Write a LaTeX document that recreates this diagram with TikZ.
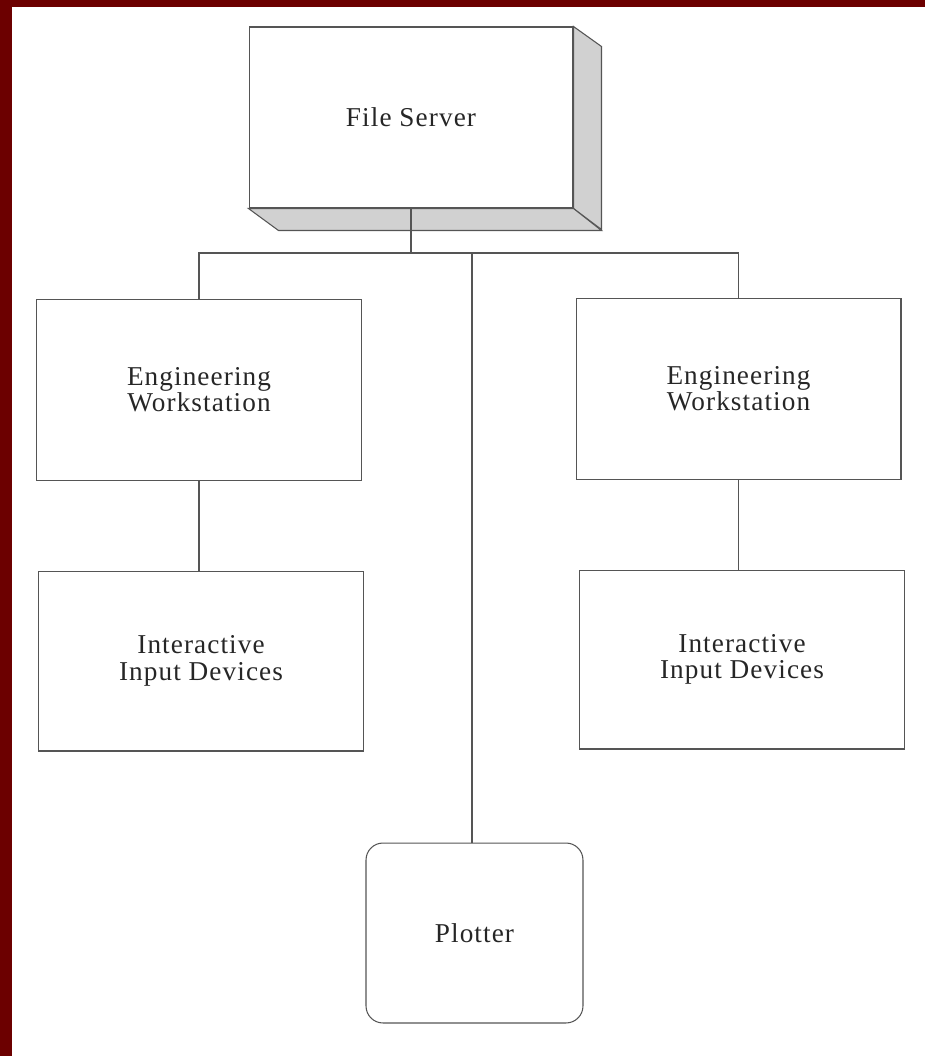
\documentclass[tikz,border=0pt]{standalone}
\usepackage{fontspec}
\setmainfont{Liberation Serif}[LetterSpace=4]
\usetikzlibrary{positioning}
\definecolor{frame}{RGB}{108,0,0}
\definecolor{ink}{RGB}{85,85,85}

\tikzset{
  box/.style={draw=ink, line width=0.6pt, minimum width=6.5cm, minimum height=3.62cm,
    align=center, text=black!85, font=\fontsize{15.5}{15}\selectfont},
  wire/.style={draw=ink, line width=0.6pt},
  side/.style={draw=ink, line width=0.6pt, fill=black!18}
}

\begin{document}
\begin{tikzpicture}[x=0.02cm, y=-0.02cm]
      \useasboundingbox (0,0) rectangle (925,1056);
      \fill[frame] (0,0) rectangle (925,7);
      \fill[frame] (0,0) rectangle (12,1056);

      % file server with its depth faces
      \node[box, minimum width=6.48cm, minimum height=3.62cm] (fs) at (411,117.5) {File Server};
      \draw[side] (fs.north east) -- ++(28,20) -- ++(0,183) -- (fs.south east) -- cycle;
      \draw[side] (fs.south west) -- (fs.south east) -- ++(28,22) -- ++(-323,0) -- cycle;

      \node[box] (ws1) at (199,390) {Engineering\\Workstation};
      \node[box] (ws2) at (738.5,389) {Engineering\\Workstation};
      \node[box, minimum height=3.6cm] (in1) at (201,661) {Interactive\\Input Devices};
      \node[box, minimum height=3.58cm] (in2) at (742,659.5) {Interactive\\Input Devices};
      \node[box, rounded corners=0.34cm, minimum width=4.34cm, minimum height=3.6cm] (pl) at (474.5,933) {Plotter};

      % bus
      \coordinate (bus) at (413,253);
      \draw[wire] (fs.south) -- (fs.south |- bus);
      \draw[wire] (ws1.north) -- (ws1.north |- bus) -- (ws2.north |- bus) -- (ws2.north);
      \draw[wire] (pl.north -| 472,0) -- (472,0 |- bus);
      \draw[wire] (ws1.south) -- (ws1.south |- in1.north);
      \draw[wire] (ws2.south) -- (ws2.south |- in2.north);
    \end{tikzpicture}
\end{document}
